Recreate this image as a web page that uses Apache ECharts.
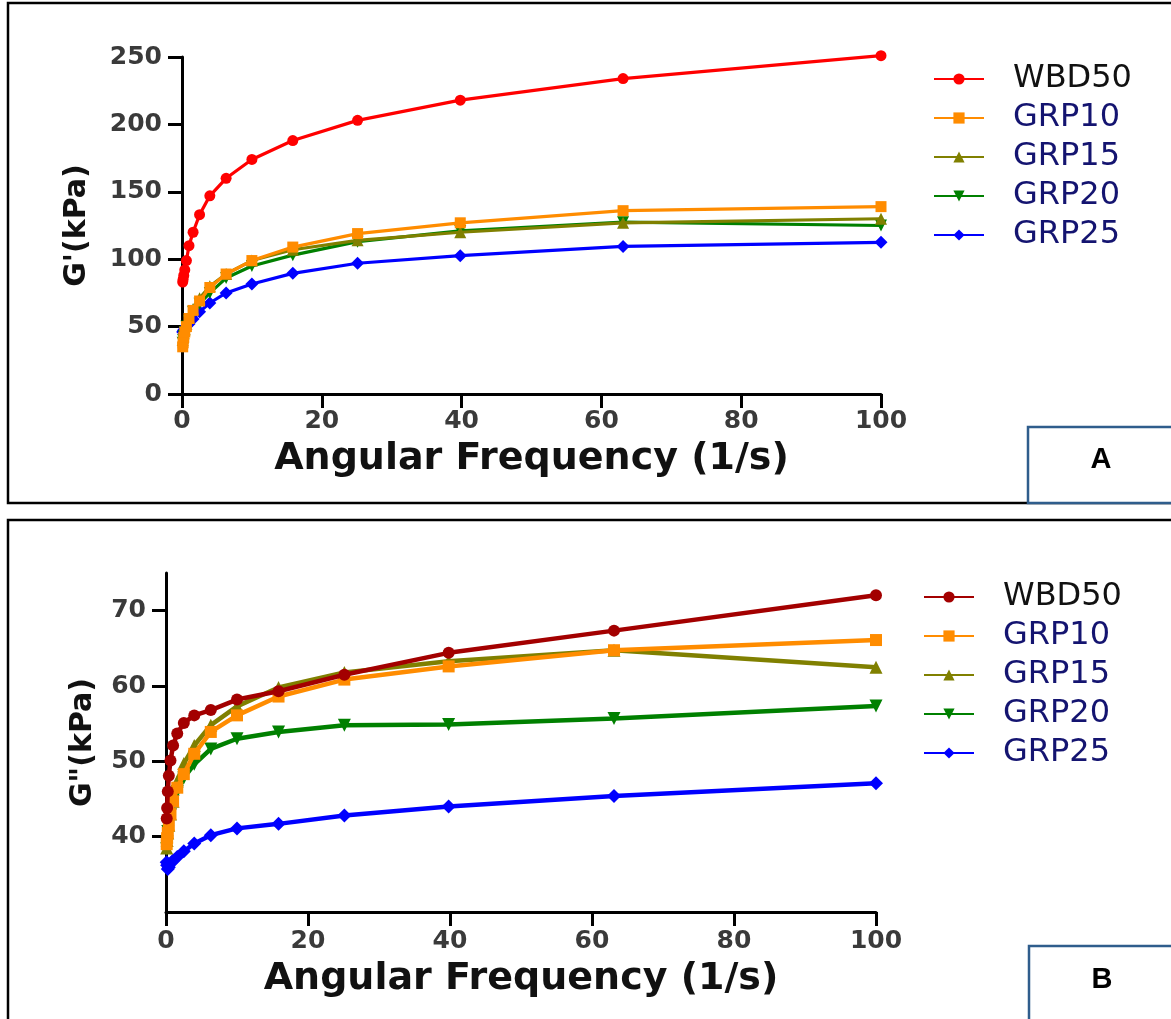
<!DOCTYPE html>
<html>
<head>
<meta charset="utf-8">
<script src="https://cdn.jsdelivr.net/npm/echarts@6/dist/echarts.min.js"></script>
<style>
html,body{margin:0;padding:0;background:#fff;}
#c{width:1171px;height:1019px;}
</style>
</head>
<body>
<div id="c"></div>
<script>
// Angular frequency (1/s) of each measured point
const freq = [0.1, 0.158, 0.251, 0.398, 0.631, 1, 1.585, 2.512, 3.981, 6.31, 10, 15.85, 25.12, 39.81, 63.1, 100];
const seriesNames = ['WBD50', 'GRP10', 'GRP15', 'GRP20', 'GRP25'];

// Panel A: G' (kPa)
const gPrimeWBD50 = [83, 85, 88, 92, 99, 110, 120, 133, 147, 160, 174, 188, 203, 218, 234, 251];
const gPrimeGRP10 = [35, 38, 42, 46, 50, 56, 62, 69, 79, 89, 99, 109, 119, 127, 136, 139];
const gPrimeGRP15 = [40, 42, 45, 48, 52, 57, 63, 71, 80, 89, 99, 107, 114, 120, 127, 130];
const gPrimeGRP20 = [38, 40, 43, 46, 50, 54, 61, 67, 75, 86, 95, 103, 113, 121, 127.5, 125];
const gPrimeGRP25 = [46, 46.5, 47.5, 49, 50.5, 52, 55.6, 61, 67.5, 75, 81.6, 89.5, 97, 102.6, 109.5, 112.5];

// Panel B: G'' (kPa)
const gDoubleWBD50 = [42.4, 43.8, 46.0, 48.1, 50.1, 52.1, 53.7, 55.1, 56.1, 56.8, 58.2, 59.3, 61.5, 64.4, 67.35, 72.06];
const gDoubleGRP10 = [39, 39.8, 40.5, 41.5, 43, 44.7, 46.5, 48.3, 51, 53.9, 56.1, 58.6, 60.85, 62.6, 64.75, 66.1];
const gDoubleGRP15 = [38.5, 39.5, 40.5, 41.5, 43, 44.7, 47.4, 49.7, 52.1, 54.8, 57.3, 59.8, 61.8, 63.3, 64.75, 62.5];
const gDoubleGRP20 = [38.4, 39.3, 40.7, 41.6, 42.9, 44.7, 46.0, 47.8, 49.6, 51.65, 53.0, 53.9, 54.8, 54.9, 55.7, 57.35];
const gDoubleGRP25 = [36.6, 36.2, 35.7, 35.95, 36.4, 36.85, 37.3, 38.05, 39.1, 40.2, 41.1, 41.7, 42.8, 44.0, 45.4, 47.1];

const xTicksA = [0, 20, 40, 60, 80, 100];
const yTicksA = [0, 50, 100, 150, 200, 250];
const yTicksB = [40, 50, 60, 70];

const valuesA = [gPrimeWBD50, gPrimeGRP10, gPrimeGRP15, gPrimeGRP20, gPrimeGRP25];
const valuesB = [gDoubleWBD50, gDoubleGRP10, gDoubleGRP15, gDoubleGRP20, gDoubleGRP25];

const colorsA = ['#ff0000', '#ff8c00', '#808000', '#008000', '#0000ff'];
const colorsB = ['#a30000', '#ff8c00', '#808000', '#008000', '#0000ff'];
const symbols = ['circle', 'rect', 'triangle', 'triangle', 'diamond'];
const rotates = [0, 0, 0, 180, 0];
const symSizesA = [11, 11, 12, 12, 13];
const symSizesB = [12, 12, 13, 13, 14];
const legendColors = ['#111111', '#141470', '#141470', '#141470', '#141470'];

const pairs = (ys) => freq.map((x, i) => [x, ys[i]]);

const tickFont = {fontFamily: 'DejaVu Sans', fontWeight: 'bold', fontSize: 25, color: '#3a3a3a'};
const titleFont = {fontFamily: 'DejaVu Sans', fontWeight: 'bold', fontSize: 38, color: '#111'};
const yTitleFont = {fontFamily: 'DejaVu Sans', fontWeight: 'bold', fontSize: 30, color: '#111'};
const axisLine = {show: true, onZero: false, lineStyle: {color: '#000', width: 3}};
const axisTick = {show: true, inside: false, length: 14, lineStyle: {color: '#000', width: 3}};

const series = [];
seriesNames.forEach((n, i) => {
  series.push({
    name: n, type: 'line', xAxisIndex: 0, yAxisIndex: 0,
    data: pairs(valuesA[i]),
    symbol: symbols[i], symbolRotate: rotates[i], symbolSize: symSizesA[i],
    showAllSymbol: true, clip: false,
    lineStyle: {color: colorsA[i], width: 3.2},
    itemStyle: {color: colorsA[i]},
    z: 10 - i
  });
});
seriesNames.forEach((n, i) => {
  series.push({
    name: 'B:' + n, type: 'line', xAxisIndex: 1, yAxisIndex: 1,
    data: pairs(valuesB[i]),
    symbol: symbols[i], symbolRotate: rotates[i], symbolSize: symSizesB[i],
    showAllSymbol: true, clip: false,
    lineStyle: {color: colorsB[i], width: 4.5},
    itemStyle: {color: colorsB[i]},
    z: 10 - i
  });
});

const legendBase = {
  orient: 'vertical',
  itemWidth: 50, itemHeight: 14, itemGap: 7,
  selectedMode: false,
  formatter: (name) => name.replace('B:', ''),
  textStyle: {fontFamily: 'DejaVu Sans', fontSize: 32, lineHeight: 32, padding: [0, 0, 0, 24]}
};

const option = {
  animation: false,
  backgroundColor: '#fff',
  grid: [
    {left: 182, top: 57, width: 699, height: 337},
    {left: 166, top: 573, width: 710, height: 339}
  ],
  xAxis: [
    {type: 'value', gridIndex: 0, min: 0, max: 100, interval: 20,
     name: 'Angular Frequency (1/s)', nameLocation: 'middle', nameGap: 46, nameTextStyle: titleFont,
     axisLine: axisLine, axisTick: axisTick, splitLine: {show: false},
     axisLabel: Object.assign({margin: 15, customValues: xTicksA}, tickFont)},
    {type: 'value', gridIndex: 1, min: 0, max: 100, interval: 20,
     name: 'Angular Frequency (1/s)', nameLocation: 'middle', nameGap: 48, nameTextStyle: titleFont,
     axisLine: axisLine, axisTick: axisTick, splitLine: {show: false},
     axisLabel: Object.assign({margin: 17, customValues: xTicksA}, tickFont)}
  ],
  yAxis: [
    {type: 'value', gridIndex: 0, min: 0, max: 250, interval: 50,
     name: "G'(kPa)", nameLocation: 'middle', nameGap: 90, nameRotate: 90, nameTextStyle: yTitleFont,
     axisLine: axisLine, axisTick: axisTick, splitLine: {show: false},
     axisLabel: Object.assign({margin: 20, customValues: yTicksA}, tickFont)},
    {type: 'value', gridIndex: 1, min: 30, max: 75,
     name: 'G"(kPa)', nameLocation: 'middle', nameGap: 68, nameRotate: 90, nameTextStyle: yTitleFont,
     axisLine: axisLine,
     axisTick: Object.assign({customValues: yTicksB}, axisTick),
     splitLine: {show: false},
     axisLabel: Object.assign({margin: 20, customValues: yTicksB}, tickFont)}
  ],
  legend: [
    Object.assign({}, legendBase, {left: 928, top: 58,
      data: seriesNames.map((n, i) => ({name: n, textStyle: {color: legendColors[i]}}))}),
    Object.assign({}, legendBase, {left: 918, top: 576,
      data: seriesNames.map((n, i) => ({name: 'B:' + n, textStyle: {color: legendColors[i]}}))})
  ],
  graphic: [
    {type: 'rect', shape: {x: 8, y: 3, width: 1200, height: 500}, style: {fill: 'none', stroke: '#000', lineWidth: 2.5}, z: 0},
    {type: 'rect', shape: {x: 8, y: 520, width: 1200, height: 600}, style: {fill: 'none', stroke: '#000', lineWidth: 2.5}, z: 0},
    {type: 'rect', shape: {x: 1028, y: 427, width: 200, height: 76}, style: {fill: '#fff', stroke: '#2f5d8c', lineWidth: 2.5}, z: 1},
    {type: 'rect', shape: {x: 1029, y: 946, width: 200, height: 120}, style: {fill: '#fff', stroke: '#2f5d8c', lineWidth: 2.5}, z: 1},
    {type: 'text', x: 1101, y: 460, style: {text: 'A', fontFamily: 'Liberation Sans', fontWeight: 'bold', fontSize: 29, fill: '#000', align: 'center', verticalAlign: 'middle'}, z: 2},
    {type: 'text', x: 1102, y: 980, style: {text: 'B', fontFamily: 'Liberation Sans', fontWeight: 'bold', fontSize: 29, fill: '#000', align: 'center', verticalAlign: 'middle'}, z: 2}
  ],
  series: series
};

const chart = echarts.init(document.getElementById('c'), null, {renderer: 'canvas'});
chart.setOption(option);
</script>
</body>
</html>
